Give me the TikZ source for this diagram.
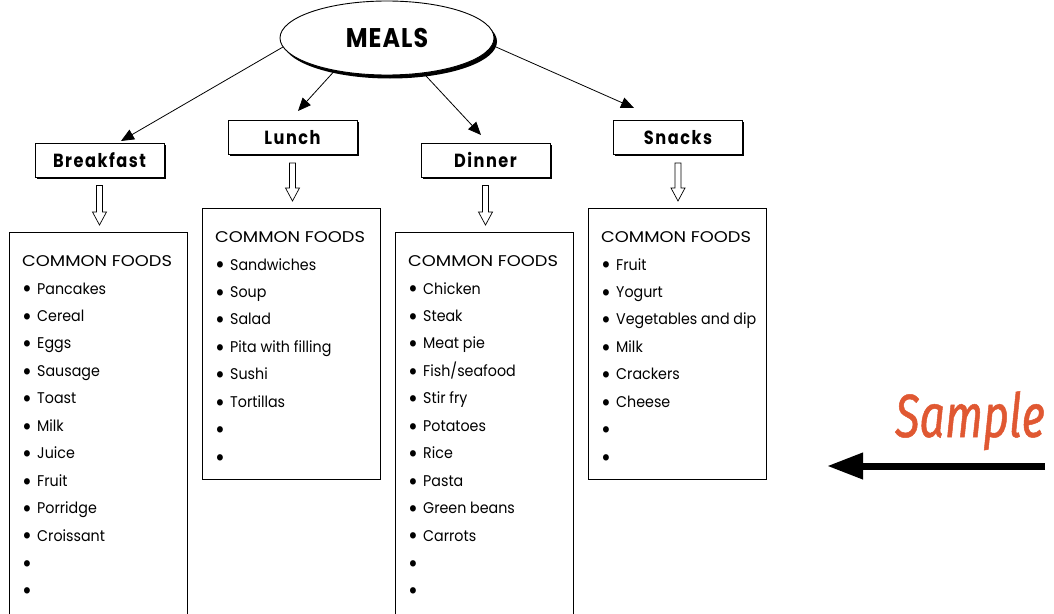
\documentclass[tikz,border=0pt]{standalone}
\usepackage{fontspec}
\setmainfont{Poppins}
\newfontfamily\itemfont[FakeStretch=0.92]{Poppins}
\newfontfamily\capsfont[FakeStretch=1.15]{Poppins}
\newfontfamily\headfont[FakeStretch=0.85,LetterSpace=8]{Poppins}
\newfontfamily\mealsfont[FakeStretch=0.88,LetterSpace=4]{Poppins}
\newfontfamily\samplefont[FakeStretch=0.735,FakeBold=0.8]{Fira Sans}
\usetikzlibrary{arrows.meta,shadows,calc,shapes.geometric}
\definecolor{samplecol}{RGB}{224,88,50}
\newcommand\holarrow[2]{%
  \draw[hollow] let \p1=(#1.south), \p2=(#2.north) in
    (\x1-3pt,\y1-8pt) -- (\x1-3pt,\y2+20pt) -- (\x1-7pt,\y2+20pt) -- (\x1,\y2+7pt)
    -- (\x1+7pt,\y2+20pt) -- (\x1+3pt,\y2+20pt) -- (\x1+3pt,\y1-8pt) -- cycle;}
\newcommand\foodlist[3]{%
  \node[txt, font=\capsfont\fontsize{15.5}{15.5}\selectfont] (#1-h) at ($(#2.north west)+(13pt,-34pt)$) {COMMON FOODS};
  \foreach \itm [count=\i] in {#3} {
    \node[bul] (#1-b\i) at ($(#2.north west)+(18pt,{-60pt-(\i-1)*27.45pt})$) {•};
    \node[txt] (#1-t\i) at ($(#2.north west)+(28pt,{-62pt-(\i-1)*27.45pt})$) {\itm};
  }}
\begin{document}
\begin{tikzpicture}[x=1pt,y=-1pt,
  head/.style={draw, line width=0.8pt, fill=white, minimum width=129pt, minimum height=34pt, inner sep=0,
    font=\headfont\bfseries\fontsize{19}{19}\selectfont,
    drop shadow={shadow xshift=1.6pt, shadow yshift=-1.6pt, opacity=1, fill=black}},
  listbox/.style={draw, line width=0.8pt, anchor=north west, minimum width=178pt, inner sep=0},
  txt/.style={anchor=base west, inner sep=0, font=\itemfont\fontsize{15.5}{15.5}\selectfont},
  bul/.style={anchor=center, inner sep=0, font=\itemfont\fontsize{26}{26}\selectfont},
  conn/.style={line width=0.8pt, -{Triangle[length=13pt,width=11pt]}},
  hollow/.style={draw, line width=0.7pt, fill=white}]
\useasboundingbox (0,0) rectangle (1054,613);
\clip (0,0) rectangle (1054,613);
% top
\node[draw, ellipse, line width=0.9pt, fill=white, minimum width=214pt, minimum height=74pt, inner sep=0,
  drop shadow={shadow xshift=3pt, shadow yshift=-3.5pt, opacity=1, fill=black},
  font=\mealsfont\bfseries\fontsize{27}{27}\selectfont] (meals) at (387,38) {MEALS};
% headers
\node[head] (bf) at (99.5,160) {Breakfast};
\node[head] (lu) at (292.5,137.5) {Lunch};
\node[head] (di) at (485.5,160) {Dinner};
\node[head] (sn) at (678,137.5) {Snacks};
% arrow tips
\coordinate (bftip) at (121,141);
\coordinate (lutip) at (298,111);
\coordinate (ditip) at (481,135);
\coordinate (sntip) at (634,108);
\draw[conn] (meals.185.5) -- (bftip);
\draw[conn] (meals.212) -- (lutip);
\draw[conn] (meals.316) -- (ditip);
\draw[conn] (meals.356) -- (sntip);
% list boxes
\node[listbox, minimum height=420pt] (bfl) at (9,232) {};
\node[listbox, minimum height=271pt] (lul) at (202,208) {};
\node[listbox, minimum height=420pt] (dil) at (395,232) {};
\node[listbox, minimum height=271pt] (snl) at (588,208) {};
\holarrow{bf}{bfl}
\holarrow{lu}{lul}
\holarrow{di}{dil}
\holarrow{sn}{snl}
\foodlist{bfi}{bfl}{Pancakes,Cereal,Eggs,Sausage,Toast,Milk,Juice,Fruit,Porridge,Croissant,{},{}}
\foodlist{lui}{lul}{Sandwiches,Soup,Salad,Pita with filling,Sushi,Tortillas,{},{}}
\foodlist{dii}{dil}{Chicken,Steak,Meat pie,Fish/seafood,Stir fry,Potatoes,Rice,Pasta,Green beans,Carrots,{},{}}
\foodlist{sni}{snl}{Fruit,Yogurt,Vegetables and dip,Milk,Crackers,Cheese,{},{}}
% sample
\node[anchor=base east, inner sep=0, text=samplecol, font=\samplefont\itshape\fontsize{61}{61}\selectfont] (sample) at (1045,437) {Sample};
\coordinate (sa1) at (1045,466);
\coordinate (sa2) at (827,466);
\draw[line width=7pt, -{Triangle[length=36pt,width=25pt]}] (sa1) -- (sa2);
\end{tikzpicture}
\end{document}
